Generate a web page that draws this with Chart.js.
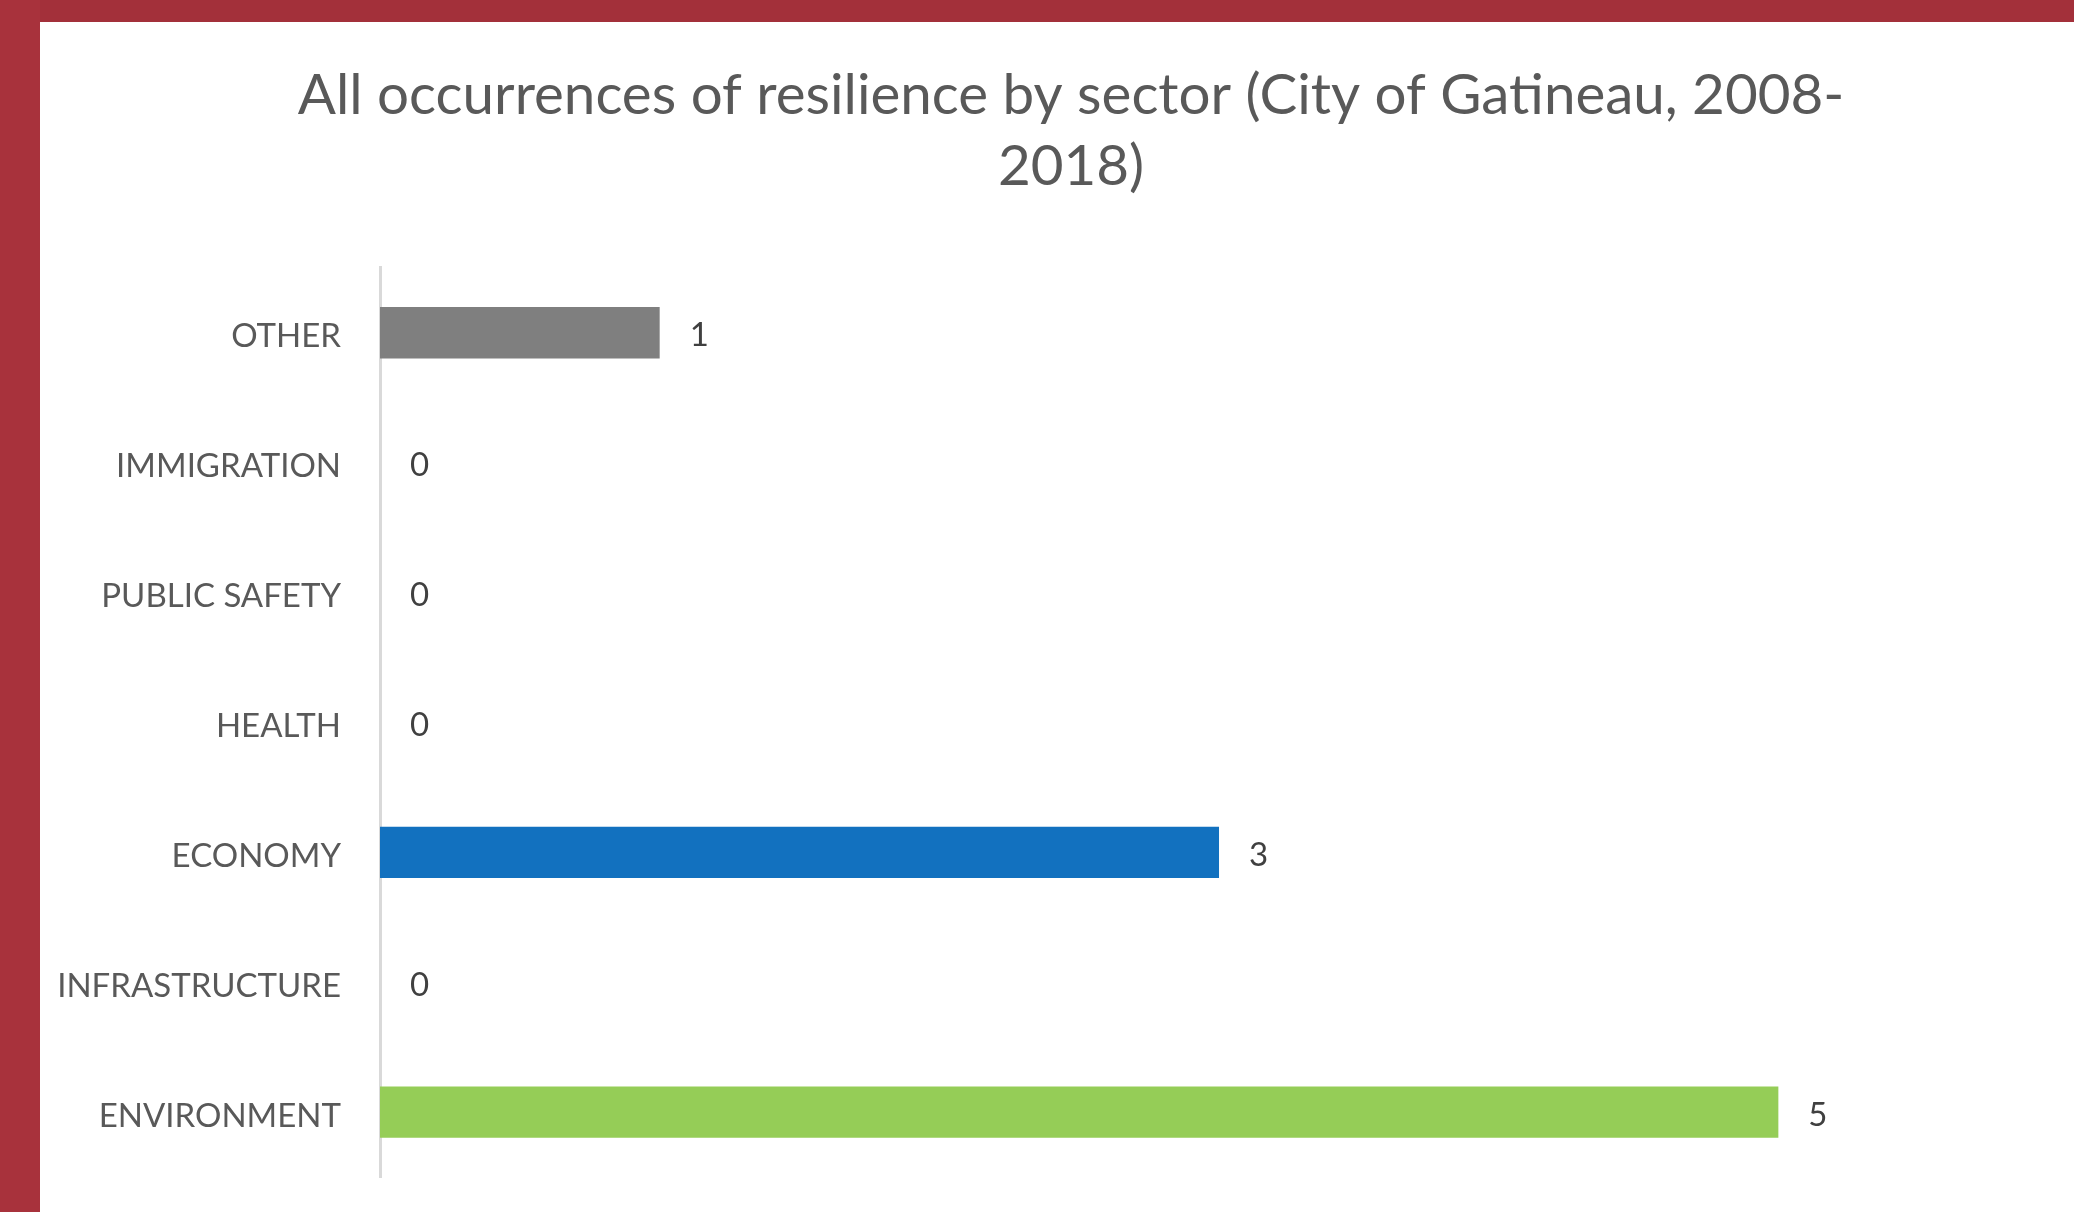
<!DOCTYPE html>
<html>
<head>
<meta charset="utf-8">
<script src="https://cdn.jsdelivr.net/npm/chart.js@4.4.1/dist/chart.umd.min.js"></script>
<style>
  html, body { margin: 0; padding: 0; overflow: hidden; }
  body { width: 2074px; height: 1212px; background: #ffffff; position: relative; }
  #frameTop { position: absolute; left: 0; top: 0; width: 2074px; height: 22px; background: #a3303a; }
  #frameLeft { position: absolute; left: 0; top: 0; width: 40px; height: 1212px; background: #a8323c; }
  #wrap { position: absolute; left: 40px; top: 22px; width: 2062px; height: 1190px; }
</style>
</head>
<body>
<div id="frameTop"></div>
<div id="frameLeft"></div>
<div id="wrap"><canvas id="barChart"></canvas></div>
<script>
// chart data
const sectors = ['OTHER', 'IMMIGRATION', 'PUBLIC SAFETY', 'HEALTH', 'ECONOMY', 'INFRASTRUCTURE', 'ENVIRONMENT'];
const occurrences = [1, 0, 0, 0, 3, 0, 5];
const barColors = ['#7f7f7f', '#7f7f7f', '#7f7f7f', '#7f7f7f', '#1271bf', '#7f7f7f', '#95cd57'];
const titleLines = ['All occurrences of resilience by sector (City of Gatineau, 2008-', '2018)'];

const fontFamily = 'Lato, "Open Sans", sans-serif';

// Draw the value next to the end of every bar
const valueLabels = {
    id: 'valueLabels',
    afterDatasetsDraw(chart) {
        const ctx = chart.ctx;
        const meta = chart.getDatasetMeta(0);
        ctx.save();
        ctx.font = '33px ' + fontFamily;
        ctx.fillStyle = '#404040';
        ctx.textAlign = 'left';
        ctx.textBaseline = 'middle';
        meta.data.forEach((bar, i) => {
            ctx.fillText(String(occurrences[i]), bar.x + 30, bar.y + 3);
        });
        ctx.restore();
    }
};

const ctx = document.getElementById('barChart').getContext('2d');
new Chart(ctx, {
    type: 'bar',
    data: {
        labels: sectors,
        datasets: [{
            data: occurrences,
            backgroundColor: barColors,
            borderWidth: 0,
            categoryPercentage: 1,
            barPercentage: 0.395
        }]
    },
    options: {
        indexAxis: 'y',
        responsive: true,
        maintainAspectRatio: false,
        animation: false,
        layout: { padding: { left: 16, right: 16, top: 0, bottom: 35 } },
        plugins: {
            legend: { display: false },
            tooltip: { enabled: false },
            title: {
                display: true,
                text: titleLines,
                color: '#595959',
                font: { family: fontFamily, size: 56.5, weight: 'normal', lineHeight: 1.255 },
                padding: { top: 38, bottom: 66 }
            }
        },
        scales: {
            x: {
                display: false,
                min: 0,
                max: 6.1
            },
            y: {
                afterFit(scale) {
                    scale.width = 324;
                    scale.paddingTop = 0;
                    scale.paddingBottom = 0;
                },
                grid: { display: false, drawTicks: false },
                border: { display: true, color: '#d9d9d9', width: 3 },
                ticks: {
                    color: '#595959',
                    padding: 39,
                    labelOffset: 4,
                    font: { family: fontFamily, size: 33 }
                }
            }
        }
    },
    plugins: [valueLabels]
});
</script>
</body>
</html>
